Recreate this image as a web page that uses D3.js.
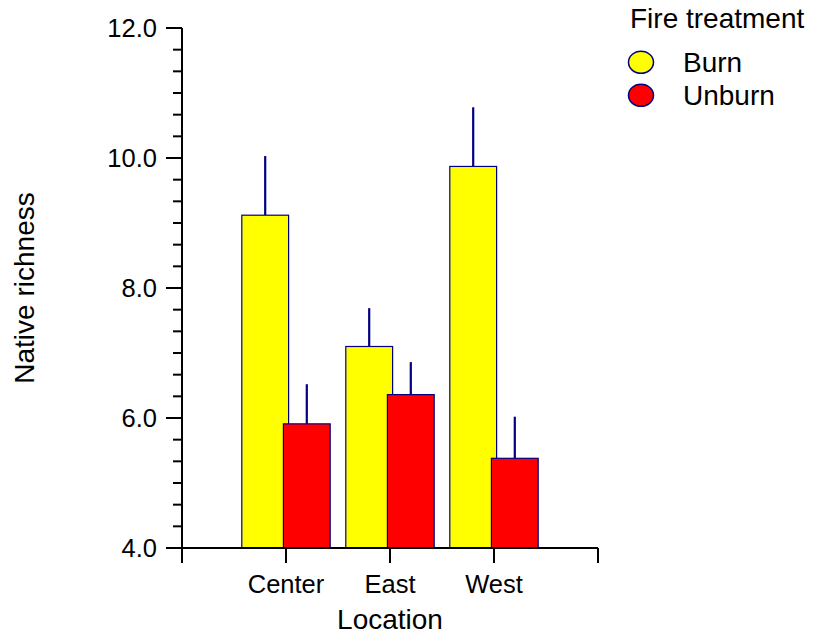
<!DOCTYPE html>
<html>
<head>
<meta charset="utf-8">
<script src="https://cdn.jsdelivr.net/npm/d3@7"></script>
<style>
  body { margin: 0; background: #fff; }
  svg { display: block; font-family: "Liberation Sans", Arial, sans-serif; }
</style>
</head>
<body>
<svg id="chart" width="816" height="639"></svg>
<script>
// data
var locations = ["Center", "East", "West"];
var treatments = ["Burn", "Unburn"];
var burnMeans = [9.12, 7.10, 9.87];
var burnErr = [0.91, 0.59, 0.91];
var unburnMeans = [5.91, 6.36, 5.38];
var unburnErr = [0.61, 0.50, 0.64];
var yTicks = [4, 6, 8, 10, 12];

var colors = { Burn: "#ffff00", Unburn: "#ff0000" };
var edge = "#000080";

var svg = d3.select("#chart");

var x = d3.scaleLinear().domain([0, 4]).range([182, 598]);
var y = d3.scaleLinear().domain([4, 12]).range([548, 28]);

var rows = [];
locations.forEach(function(loc, i) {
  rows.push({ loc: loc, pos: i + 1, t: "Burn", v: burnMeans[i], e: burnErr[i], off: -0.425 });
  rows.push({ loc: loc, pos: i + 1, t: "Unburn", v: unburnMeans[i], e: unburnErr[i], off: -0.025 });
});

var barW = 0.45;

// error bars (drawn first, bar covers bottom)
svg.selectAll("line.err").data(rows).enter().append("line")
  .attr("class", "err")
  .attr("x1", function(d) { return x(d.pos + d.off + barW / 2); })
  .attr("x2", function(d) { return x(d.pos + d.off + barW / 2); })
  .attr("y1", function(d) { return y(d.v); })
  .attr("y2", function(d) { return y(d.v + d.e); })
  .attr("stroke", edge)
  .attr("stroke-width", 2.2);

svg.selectAll("rect.bar").data(rows).enter().append("rect")
  .attr("class", "bar")
  .attr("x", function(d) { return x(d.pos + d.off); })
  .attr("width", function(d) { return x(barW) - x(0); })
  .attr("y", function(d) { return y(d.v); })
  .attr("height", function(d) { return y(4) - y(d.v); })
  .attr("fill", function(d) { return colors[d.t]; })
  .attr("stroke", edge)
  .attr("stroke-width", 1.2);

// y axis
var yMinor = d3.range(4, 12.001, 1 / 3);
var ya = svg.append("g");
ya.append("line").attr("x1", 182).attr("x2", 182).attr("y1", y(12)).attr("y2", y(4))
  .attr("stroke", "#000").attr("stroke-width", 2);
ya.selectAll("line.minor").data(yMinor).enter().append("line")
  .attr("x1", 173).attr("x2", 182)
  .attr("y1", function(d) { return y(d); }).attr("y2", function(d) { return y(d); })
  .attr("stroke", "#000").attr("stroke-width", 2);
ya.selectAll("line.major").data(yTicks).enter().append("line")
  .attr("x1", 166).attr("x2", 182)
  .attr("y1", function(d) { return y(d); }).attr("y2", function(d) { return y(d); })
  .attr("stroke", "#000").attr("stroke-width", 2);
ya.selectAll("text").data(yTicks).enter().append("text")
  .attr("x", 157).attr("y", function(d) { return y(d); })
  .attr("dy", "0.36em")
  .attr("text-anchor", "end")
  .attr("font-size", 25.5)
  .text(function(d) { return d3.format(".1f")(d); });

// x axis
var xa = svg.append("g");
xa.append("line").attr("x1", x(0)).attr("x2", x(4)).attr("y1", 548).attr("y2", 548)
  .attr("stroke", "#000").attr("stroke-width", 2);
xa.selectAll("line.tick").data([0, 1, 2, 3, 4]).enter().append("line")
  .attr("x1", function(d) { return x(d); }).attr("x2", function(d) { return x(d); })
  .attr("y1", 548).attr("y2", 563)
  .attr("stroke", "#000").attr("stroke-width", 2);
xa.selectAll("text").data(locations).enter().append("text")
  .attr("x", function(d, i) { return x(i + 1); })
  .attr("y", 593)
  .attr("text-anchor", "middle")
  .attr("font-size", 25.5)
  .text(function(d) { return d; });

svg.append("text").attr("x", x(2)).attr("y", 629)
  .attr("text-anchor", "middle").attr("font-size", 28).text("Location");

svg.append("text")
  .attr("transform", "translate(34,288) rotate(-90)")
  .attr("text-anchor", "middle").attr("font-size", 28).text("Native richness");

// legend
var lg = svg.append("g");
lg.append("text").attr("x", 630).attr("y", 28).attr("font-size", 28).text("Fire treatment");
var items = lg.selectAll("g.item").data(treatments).enter().append("g")
  .attr("transform", function(d, i) { return "translate(0," + (62.3 + i * 33) + ")"; });
items.append("ellipse").attr("cx", 641).attr("cy", 0).attr("rx", 12.5).attr("ry", 11)
  .attr("fill", function(d) { return colors[d]; })
  .attr("stroke", edge).attr("stroke-width", 1.5);
items.append("text").attr("x", 683).attr("y", 9.6)
  .attr("font-size", 28).text(function(d) { return d; });
</script>
</body>
</html>
